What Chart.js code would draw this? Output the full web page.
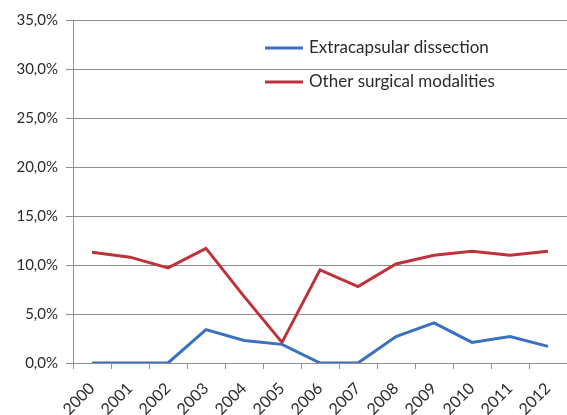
<!DOCTYPE html>
<html>
<head>
<meta charset="utf-8">
<script src="https://cdn.jsdelivr.net/npm/chart.js@4"></script>
<style>
  html, body { margin: 0; padding: 0; background: #fff; }
  #wrap { width: 567px; height: 415px; }
</style>
</head>
<body>
<div id="wrap"><canvas id="chart" width="567" height="415"></canvas></div>
<script>
/* ================= DATA ================= */

const years = ["2000", "2001", "2002", "2003", "2004", "2005", "2006",
  "2007", "2008", "2009", "2010", "2011", "2012"];

const extracapsular = [0, 0, 0, 3.4, 2.3, 1.9, 0, 0, 2.7, 4.1, 2.1, 2.7, 1.7];
const otherModalities = [11.3, 10.8, 9.7, 11.7, 6.8, 2.1, 9.5, 7.8, 10.1, 11.0, 11.4, 11.0, 11.4];

const seriesNames = ["Extracapsular dissection", "Other surgical modalities"];
const yTicks = [0, 5, 10, 15, 20, 25, 30, 35];

/* ================= STYLE ================= */

const FONT = "Lato, 'Open Sans', sans-serif";
const TEXT = "#2b2b2b";
const GRID = "#8f8f8f";

/* legend drawn inside the plot, top right */
const insideLegend = {
  id: "insideLegend",
  afterDraw(chart) {
    const c = chart.ctx;
    c.save();
    c.font = "17px " + FONT;
    c.textBaseline = "middle";
    c.textAlign = "left";
    chart.data.datasets.forEach((ds, i) => {
      const y = 48 + i * 34;
      c.strokeStyle = ds.borderColor;
      c.lineWidth = 3;
      c.beginPath();
      c.moveTo(265, y);
      c.lineTo(303, y);
      c.stroke();
      c.fillStyle = TEXT;
      c.fillText(ds.label, 309, y);
    });
    c.restore();
  }
};

/* ================= CHART ================= */

new Chart(document.getElementById("chart"), {
  type: "line",
  data: {
    labels: years,
    datasets: [
      {
        label: seriesNames[0],
        data: extracapsular,
        borderColor: "#3a70c0",
        borderWidth: 3,
        pointRadius: 0,
        tension: 0
      },
      {
        label: seriesNames[1],
        data: otherModalities,
        borderColor: "#c0323a",
        borderWidth: 3,
        pointRadius: 0,
        tension: 0
      }
    ]
  },
  options: {
    responsive: false,
    animation: false,
    layout: { padding: { top: 20, right: 0, left: 0, bottom: 0 } },
    plugins: {
      legend: { display: false },
      tooltip: { enabled: false }
    },
    scales: {
      x: {
        offset: true,
        grid: {
          offset: true,
          drawOnChartArea: false,
          drawTicks: true,
          tickLength: 6,
          color: GRID
        },
        border: { color: GRID, width: 1 },
        ticks: {
          color: TEXT,
          font: { family: FONT, size: 16 },
          maxRotation: 45,
          minRotation: 45,
          autoSkip: false,
          padding: 10
        },
        afterFit(scale) {
          scale.height = 52;
          scale.paddingLeft = 0;
          scale.paddingRight = 0;
        }
      },
      y: {
        min: 0,
        max: 35,
        afterBuildTicks(scale) {
          scale.ticks = yTicks.map(v => ({ value: v }));
        },
        grid: { color: GRID, tickLength: 7, lineWidth: 1 },
        border: { color: GRID, width: 1 },
        ticks: {
          color: TEXT,
          font: { family: FONT, size: 15 },
          padding: 8,
          callback: v => v.toFixed(1).replace(".", ",") + "%"
        },
        afterFit(scale) { scale.width = 73; }
      }
    }
  },
  plugins: [insideLegend]
});
</script>
</body>
</html>
